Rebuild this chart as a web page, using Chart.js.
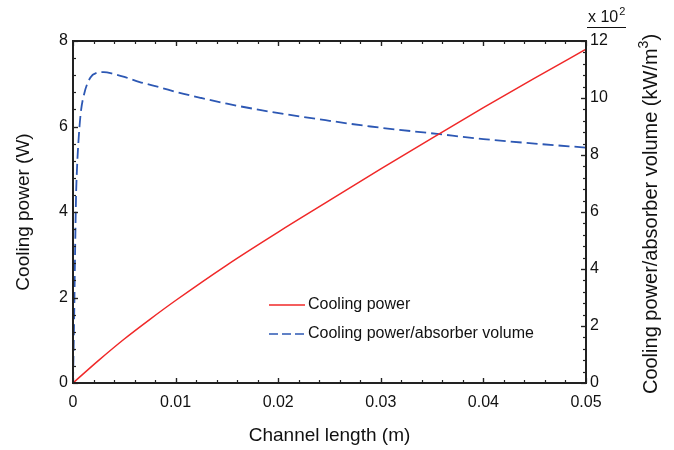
<!DOCTYPE html>
<html>
<head>
<meta charset="utf-8">
<script src="https://cdn.jsdelivr.net/npm/chart.js@4/dist/chart.umd.min.js"></script>
<style>
  html, body { margin: 0; padding: 0; background: #fff; }
  #wrap { width: 674px; height: 450px; position: relative; }
</style>
</head>
<body>
<div id="wrap"><canvas id="c" width="674" height="450"></canvas></div>
<script>
// ---- Data ----
const lengthPower = [0, 0.0025, 0.005, 0.0075, 0.01, 0.015, 0.02, 0.025, 0.03, 0.035, 0.04, 0.045, 0.05];
const coolingPower = [0, 0.53, 1.03, 1.49, 1.93, 2.76, 3.53, 4.27, 5.01, 5.73, 6.44, 7.13, 7.81];

const lengthDensity = [0, 0.0001, 0.0002, 0.0003, 0.0004, 0.0005, 0.00075, 0.0011, 0.0017, 0.0023, 0.003, 0.004, 0.005, 0.0065, 0.0085, 0.0103, 0.0125, 0.015, 0.0192, 0.025, 0.029, 0.0355, 0.04, 0.045, 0.05];
const powerPerVolume = [0, 2.0, 4.5, 6.6, 7.6, 8.3, 9.46, 10.16, 10.72, 10.88, 10.91, 10.84, 10.74, 10.56, 10.37, 10.19, 10.0, 9.8, 9.52, 9.2, 9.0, 8.74, 8.56, 8.4, 8.26];

const xTicks = [0, 0.01, 0.02, 0.03, 0.04, 0.05];
const yLeftTicks = [0, 2, 4, 6, 8];
const yRightTicks = [0, 2, 4, 6, 8, 10, 12];

const seriesNames = ['Cooling power', 'Cooling power/absorber volume'];

const FONT = '"Liberation Sans", Arial, Helvetica, sans-serif';
const RED = '#f02828';
const BLUE = '#2d58b4';
const AXIS = '#222222';

const toPts = (xs, ys) => xs.map((x, i) => ({ x: x, y: ys[i] }));

const framePlugin = {
  id: 'frameAndText',
  afterDraw(chart) {
    const ctx = chart.ctx;
    const ca = chart.chartArea;
    const sx = chart.scales.x, sy = chart.scales.y, sy2 = chart.scales.y2;
    ctx.save();
    // frame
    ctx.strokeStyle = AXIS;
    ctx.lineWidth = 2;
    ctx.strokeRect(ca.left, ca.top, ca.right - ca.left, ca.bottom - ca.top);
    ctx.lineWidth = 1.2;
    // x ticks (bottom & top, inward)
    const xMinorStep = (xTicks[1] - xTicks[0]) / 5;
    for (let i = 0; i < xTicks.length - 1; i++) {
      for (let k = 0; k <= 5; k++) {
        const v = xTicks[i] + k * xMinorStep;
        const px = Math.round(sx.getPixelForValue(v)) + 0.5;
        const len = (k === 0 || k === 5) ? 5 : 3;
        ctx.beginPath();
        ctx.moveTo(px, ca.bottom); ctx.lineTo(px, ca.bottom - len);
        ctx.moveTo(px, ca.top); ctx.lineTo(px, ca.top + len);
        ctx.stroke();
      }
    }
    // left y ticks
    const yMinor = (yLeftTicks[1] - yLeftTicks[0]) / 5;
    for (let i = 0; i < yLeftTicks.length - 1; i++) {
      for (let k = 0; k <= 5; k++) {
        const v = yLeftTicks[i] + k * yMinor;
        const py = Math.round(sy.getPixelForValue(v)) + 0.5;
        const len = (k === 0 || k === 5) ? 5 : 3;
        ctx.beginPath();
        ctx.moveTo(ca.left, py); ctx.lineTo(ca.left + len, py);
        ctx.stroke();
      }
    }
    // right y ticks
    const y2Minor = (yRightTicks[1] - yRightTicks[0]) / 5;
    for (let i = 0; i < yRightTicks.length - 1; i++) {
      for (let k = 0; k <= 5; k++) {
        const v = yRightTicks[i] + k * y2Minor;
        const py = Math.round(sy2.getPixelForValue(v)) + 0.5;
        const len = (k === 0 || k === 5) ? 5 : 3;
        ctx.beginPath();
        ctx.moveTo(ca.right, py); ctx.lineTo(ca.right - len, py);
        ctx.stroke();
      }
    }

    // axis titles
    ctx.fillStyle = '#111';
    ctx.textBaseline = 'middle';
    ctx.textAlign = 'center';
    ctx.font = '19px ' + FONT;
    ctx.fillText('Channel length (m)', (ca.left + ca.right) / 2, 436);

    ctx.save();
    ctx.translate(24, (ca.top + ca.bottom) / 2);
    ctx.rotate(-Math.PI / 2);
    ctx.fillText('Cooling power (W)', 0, 0);
    ctx.restore();

    // right title with superscript
    ctx.save();
    ctx.translate(651, 214);
    ctx.rotate(-Math.PI / 2);
    const main = 'Cooling power/absorber volume (kW/m';
    ctx.font = '20px ' + FONT;
    const w1 = ctx.measureText(main).width;
    ctx.font = '14px ' + FONT;
    const w2 = ctx.measureText('3').width;
    ctx.font = '20px ' + FONT;
    const w3 = ctx.measureText(')').width;
    let x0 = -(w1 + w2 + w3) / 2;
    ctx.textAlign = 'left';
    ctx.fillText(main, x0, 0);
    ctx.font = '14px ' + FONT;
    ctx.fillText('3', x0 + w1, -7);
    ctx.font = '20px ' + FONT;
    ctx.fillText(')', x0 + w1 + w2, 0);
    ctx.restore();

    // multiplier label
    ctx.textAlign = 'left';
    ctx.textBaseline = 'alphabetic';
    ctx.font = '16px ' + FONT;
    ctx.fillText('x 10', 588, 22);
    const wm = ctx.measureText('x 10').width;
    ctx.font = '11px ' + FONT;
    ctx.fillText('2', 588 + wm + 1, 15);
    ctx.strokeStyle = '#111';
    ctx.lineWidth = 1;
    ctx.beginPath();
    ctx.moveTo(587, 27.5); ctx.lineTo(626, 27.5);
    ctx.stroke();

    // legend
    ctx.font = '16px ' + FONT;
    ctx.textBaseline = 'middle';
    ctx.lineWidth = 1.5;
    ctx.strokeStyle = RED;
    ctx.setLineDash([]);
    ctx.beginPath(); ctx.moveTo(269, 305); ctx.lineTo(305, 305); ctx.stroke();
    ctx.fillText(seriesNames[0], 308, 305);
    ctx.strokeStyle = BLUE;
    ctx.setLineDash([9, 4]);
    ctx.beginPath(); ctx.moveTo(269, 334); ctx.lineTo(306, 334); ctx.stroke();
    ctx.setLineDash([]);
    ctx.fillText(seriesNames[1], 308, 334);
    ctx.restore();
  }
};

new Chart(document.getElementById('c'), {
  type: 'line',
  data: {
    datasets: [
      {
        label: seriesNames[0],
        data: toPts(lengthPower, coolingPower),
        yAxisID: 'y',
        borderColor: RED,
        borderWidth: 1.5,
        pointRadius: 0,
        cubicInterpolationMode: 'monotone',
        fill: false
      },
      {
        label: seriesNames[1],
        data: toPts(lengthDensity, powerPerVolume),
        yAxisID: 'y2',
        borderColor: BLUE,
        borderWidth: 1.8,
        borderDash: [11, 5],
        pointRadius: 0,
        cubicInterpolationMode: 'monotone',
        fill: false
      }
    ]
  },
  options: {
    responsive: false,
    animation: false,
    layout: { padding: { top: 41, left: 0, right: 0, bottom: 0 } },
    plugins: { legend: { display: false }, tooltip: { enabled: false } },
    scales: {
      x: {
        type: 'linear',
        min: 0, max: 0.05,
        grid: { display: false, drawTicks: false },
        border: { display: false },
        afterBuildTicks: s => { s.ticks = xTicks.map(v => ({ value: v })); },
        ticks: {
          padding: 10,
          color: '#111',
          font: { family: FONT, size: 16 },
          callback: v => (v === 0 ? '0' : String(+v.toFixed(3)))
        },
        afterFit: s => { s.height = 67; }
      },
      y: {
        position: 'left',
        min: 0, max: 8,
        grid: { display: false, drawTicks: false },
        border: { display: false },
        afterBuildTicks: s => { s.ticks = yLeftTicks.map(v => ({ value: v })); },
        ticks: { padding: 5, color: '#111', font: { family: FONT, size: 16 } },
        afterFit: s => { s.width = 73; }
      },
      y2: {
        position: 'right',
        min: 0, max: 12,
        grid: { display: false, drawTicks: false },
        border: { display: false },
        afterBuildTicks: s => { s.ticks = yRightTicks.map(v => ({ value: v })); },
        ticks: { padding: 4, color: '#111', font: { family: FONT, size: 16 } },
        afterFit: s => { s.width = 88; }
      }
    }
  },
  plugins: [framePlugin]
});
</script>
</body>
</html>
